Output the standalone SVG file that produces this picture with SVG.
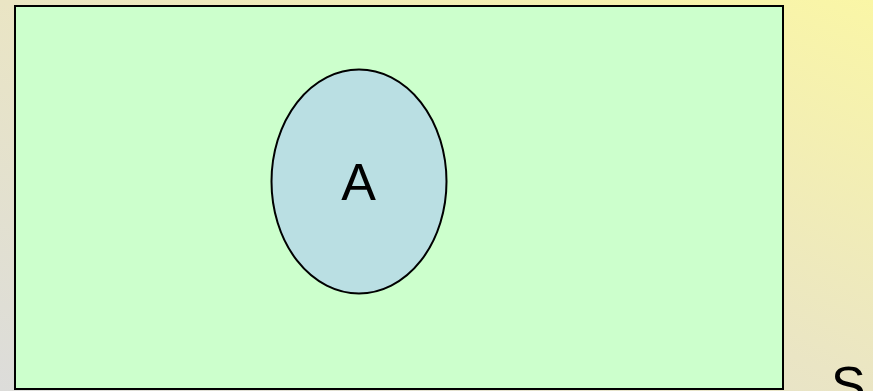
<svg xmlns="http://www.w3.org/2000/svg" width="873" height="391" viewBox="0 0 873 391">
  <defs>
    <linearGradient id="bg" x1="0" y1="1" x2="1" y2="0">
      <stop offset="0" stop-color="#DCDCDA"/>
      <stop offset="0.5" stop-color="#EAE5C4"/>
      <stop offset="1" stop-color="#FAF6A6"/>
    </linearGradient>
    <style>
      .lbl { font-family: "Liberation Sans", Arial, sans-serif; font-size: 52px; fill: #000; }
    </style>
  </defs>
  <rect x="0" y="0" width="873" height="391" fill="url(#bg)"/>
  <g id="universe">
    <rect x="15" y="6" width="768" height="383" fill="#CCFFCC" stroke="#000" stroke-width="2"/>
    <text class="lbl" x="831" y="403">S</text>
  </g>
  <g id="setA">
    <ellipse cx="359" cy="181.5" rx="87.5" ry="112" fill="#BADFE3" stroke="#000" stroke-width="2"/>
    <text class="lbl" x="358.5" y="200" text-anchor="middle">A</text>
  </g>
  <g id="connectors"/>
</svg>
